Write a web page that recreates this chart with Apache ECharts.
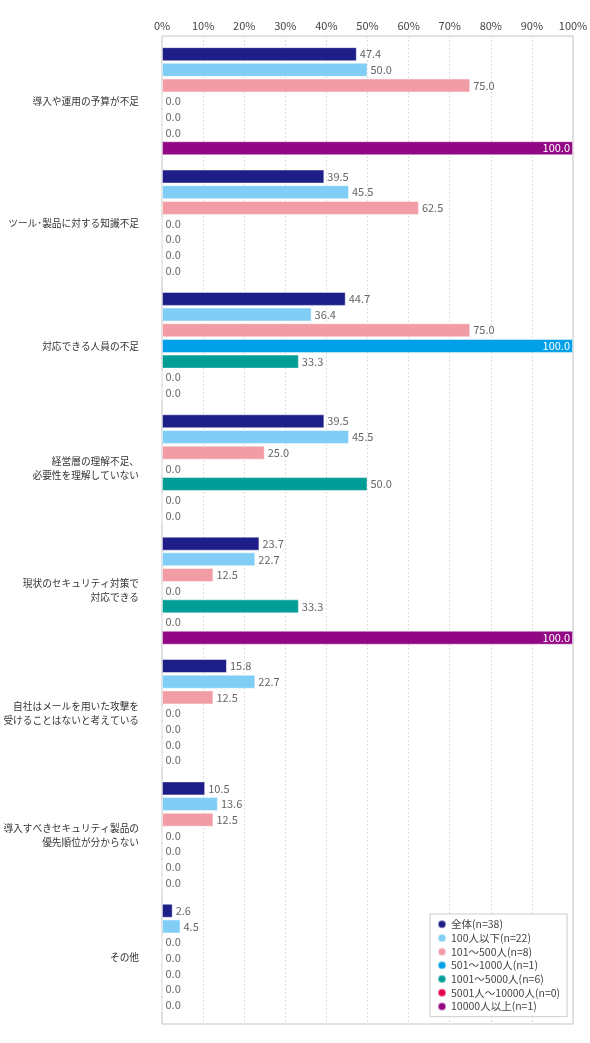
<!DOCTYPE html>
<html>
<head>
<meta charset="utf-8">
<script src="https://cdn.jsdelivr.net/npm/echarts@6/dist/echarts.min.js"></script>
<style>
    html, body { margin: 0; padding: 0; background: #fff; }
    #main { width: 590px; height: 1043px; }
</style>
</head>
<body>
<div id="main"></div>
<script>
    var categories = [
        '導入や運用の予算が不足',
        'ツール･製品に対する知識不足',
        '対応できる人員の不足',
        '経営層の理解不足、\n必要性を理解していない',
        '現状のセキュリティ対策で\n対応できる',
        '自社はメールを用いた攻撃を\n受けることはないと考えている',
        '導入すべきセキュリティ製品の\n優先順位が分からない',
        'その他'
    ];
    var seriesNames = [
        '全体(n=38)',
        '100人以下(n=22)',
        '101～500人(n=8)',
        '501～1000人(n=1)',
        '1001～5000人(n=6)',
        '5001人～10000人(n=0)',
        '10000人以上(n=1)'
    ];
    var colors = ['#1e1e88', '#80cdf5', '#f29ca6', '#00a0e9', '#009e96', '#e5004f', '#920783'];

    // 各系列の値（カテゴリ順）
    var allData     = [47.4, 39.5, 44.7, 39.5, 23.7, 15.8, 10.5, 2.6];
    var under100    = [50.0, 45.5, 36.4, 45.5, 22.7, 22.7, 13.6, 4.5];
    var s101to500   = [75.0, 62.5, 75.0, 25.0, 12.5, 12.5, 12.5, 0.0];
    var s501to1000  = [0.0, 0.0, 100.0, 0.0, 0.0, 0.0, 0.0, 0.0];
    var s1001to5000 = [0.0, 0.0, 33.3, 50.0, 33.3, 0.0, 0.0, 0.0];
    var s5001to10000 = [0.0, 0.0, 0.0, 0.0, 0.0, 0.0, 0.0, 0.0];
    var over10000   = [100.0, 0.0, 0.0, 0.0, 100.0, 0.0, 0.0, 0.0];
    var xTicks = [0, 10, 20, 30, 40, 50, 60, 70, 80, 90, 100];

    var values = [allData, under100, s101to500, s501to1000, s1001to5000, s5001to10000, over10000];
    var font = '"Noto Sans CJK JP", sans-serif';

    var series = values.map(function (arr, i) {
        return {
            name: seriesNames[i],
            type: 'bar',
            xAxisIndex: 1,
            yAxisIndex: 1,
            barWidth: 14,
            barGap: '12%',
            itemStyle: {
                color: colors[i],
                borderColor: 'rgba(255,255,255,0.45)',
                borderWidth: 1
            },
            label: {
                show: true,
                position: 'right',
                distance: 3,
                color: '#666',
                fontSize: 11,
                fontFamily: font,
                formatter: function (p) { return p.value.toFixed(1); }
            },
            data: arr.map(function (v) {
                if (v >= 100) {
                    return { value: v, label: { position: 'insideRight', color: '#fff', distance: 3 } };
                }
                return v;
            })
        };
    });

    var myChart = echarts.init(document.getElementById('main'));
    var option = {
        animation: false,
        color: colors,
        textStyle: { fontFamily: font },
        grid: [
            { left: 162, top: 36, width: 411, height: 988, containLabel: false, outerBoundsMode: 'none',
              show: true, borderColor: '#c4c4c4', borderWidth: 1, backgroundColor: 'transparent' },
            { left: 162, top: 40, width: 411, height: 979, containLabel: false, outerBoundsMode: 'none' }
        ],
        legend: {
            orient: 'vertical',
            left: 430,
            top: 914,
            icon: 'circle',
            itemWidth: 8,
            itemHeight: 8,
            itemGap: 3.2,
            padding: [5, 7, 5, 7],
            backgroundColor: '#fff',
            borderColor: '#ccc',
            borderWidth: 1,
            borderRadius: 0,
            textStyle: { fontSize: 10.5, lineHeight: 10, color: '#444', fontFamily: font },
            data: seriesNames
        },
        xAxis: [
            {
                gridIndex: 0,
                type: 'value',
                position: 'top',
                min: xTicks[0],
                max: xTicks[xTicks.length - 1],
                interval: 10,
                axisLine: { show: false },
                axisTick: { show: false },
                axisLabel: { formatter: '{value}%', color: '#444', fontSize: 11, margin: 4.5, fontFamily: font },
                splitLine: { show: true, lineStyle: { color: '#dcdcdc', type: [2, 2], width: 1 } }
            },
            {
                gridIndex: 1,
                type: 'value',
                min: 0,
                max: 100,
                show: false
            }
        ],
        yAxis: [
            {
                gridIndex: 0,
                type: 'value',
                show: false
            },
            {
                gridIndex: 1,
                type: 'category',
                inverse: true,
                data: categories,
                axisLine: { show: false },
                axisTick: { show: false },
                axisLabel: { color: '#333', fontSize: 9.7, margin: 23, lineHeight: 14, align: 'right', fontFamily: font }
            }
        ],
        series: series
    };
    myChart.setOption(option);
</script>
</body>
</html>
